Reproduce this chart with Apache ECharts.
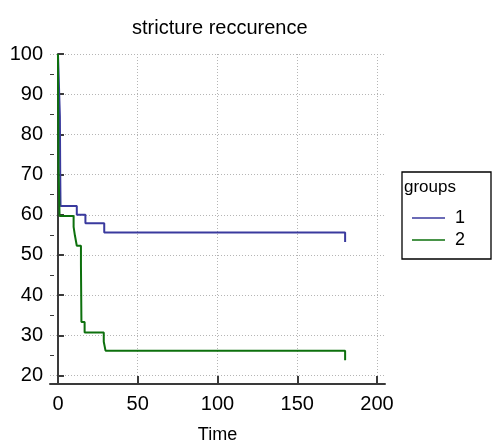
<!DOCTYPE html>
<html><head><meta charset="utf-8">
<script src="https://cdn.jsdelivr.net/npm/echarts@6/dist/echarts.min.js"></script>
<style>html,body{margin:0;padding:0;background:#fff}#c{width:493px;height:441px}</style>
</head><body><div id="c"></div>
<script>
// Kaplan-Meier step data
var group1Time = [0, 1.2, 1.4, 1.6, 11.8, 17.2, 29.0, 180, 180];
var group1Surv = [100, 84.5, 70.5, 62.2, 60.0, 57.9, 55.6, 55.6, 53.2];
var group2Time = [0, 0.3, 1.0, 9.8, 10.6, 11.8, 14.4, 14.7, 16.7, 28.7, 29.8, 180, 180];
var group2Surv = [100, 72.0, 59.7, 57.0, 54.9, 52.3, 47.4, 33.3, 30.7, 28.4, 26.2, 26.2, 23.8];
var groupNames = ['1', '2'];
var xTicks = [0, 50, 100, 150, 200];
var yTicks = [20, 30, 40, 50, 60, 70, 80, 90, 100];
var yMinorTicks = [25, 35, 45, 55, 65, 75, 85, 95];
var titleText = 'stricture reccurence';
var xName = 'Time';
var legendTitle = 'groups';

function zip(a, b) { return a.map(function (v, i) { return [v, b[i]]; }); }

var FONT = "'Liberation Sans', Arial, sans-serif";
var chart = echarts.init(document.getElementById('c'), null, { renderer: 'canvas' });
var axisLineStyle = { color: '#3a3a3a', width: 2 };
chart.setOption({
  animation: false,
  backgroundColor: '#fff',
  title: {
    text: titleText, left: 127, top: 13,
    textStyle: { fontFamily: FONT, fontSize: 20, fontWeight: 'normal', color: '#000' }
  },
  grid: { left: 50, right: 108, top: 54, bottom: 57, containLabel: false, outerBoundsMode: 'none' },
  xAxis: {
    type: 'value', min: -5, max: 205,
    name: xName, nameLocation: 'middle', nameGap: 42,
    nameTextStyle: { fontFamily: FONT, fontSize: 18, color: '#000' },
    axisLine: { show: true, lineStyle: axisLineStyle },
    axisTick: { show: true, inside: true, length: 8, customValues: xTicks, lineStyle: axisLineStyle },
    axisLabel: { customValues: xTicks, fontFamily: FONT, fontSize: 20, color: '#000', margin: 10 },
    splitLine: { show: true, lineStyle: { color: '#b5b5b5', type: [1, 2], width: 1 } }
  },
  yAxis: [{
    type: 'value', min: 17.9, max: 100,
    axisLine: { show: true, lineStyle: axisLineStyle },
    axisTick: { show: true, inside: true, length: 6, customValues: yTicks, lineStyle: axisLineStyle },
    axisLabel: { customValues: yTicks, fontFamily: FONT, fontSize: 20, color: '#000', margin: 7 },
    splitLine: { show: true, lineStyle: { color: '#b5b5b5', type: [1, 2], width: 1 } }
  }, {
    type: 'value', min: 17.9, max: 100, position: 'left', offset: 0,
    axisLine: { show: false },
    axisTick: { show: true, inside: true, length: 4, customValues: yMinorTicks, lineStyle: { color: '#3a3a3a', width: 1 } },
    axisLabel: { show: false },
    splitLine: { show: false }
  }],
  legend: {
    orient: 'vertical', left: 407, top: 204, itemGap: 4,
    itemWidth: 33, itemHeight: 20, icon: 'path://M0,0 L33,0 L33,1.5 L0,1.5 Z',
    textStyle: { fontFamily: FONT, fontSize: 18, color: '#000', padding: [0, 0, 0, 5] },
    data: groupNames
  },
  graphic: [
    { type: 'rect', shape: { x: 402, y: 172, width: 89, height: 87 }, style: { fill: 'none', stroke: '#000', lineWidth: 1.3 } },
    { type: 'text', x: 404, y: 179, style: { text: legendTitle, font: '17px ' + FONT, fill: '#000' } }
  ],
  series: [{
    name: groupNames[0], type: 'line', step: 'end', showSymbol: false, symbol: 'none',
    data: zip(group1Time, group1Surv), color: '#3a3a9e', lineStyle: { width: 2, color: '#3a3a9e' }
  }, {
    name: groupNames[1], type: 'line', step: 'end', showSymbol: false, symbol: 'none',
    data: zip(group2Time, group2Surv), color: '#0d700d', lineStyle: { width: 2, color: '#0d700d' }
  }]
});
</script></body></html>
